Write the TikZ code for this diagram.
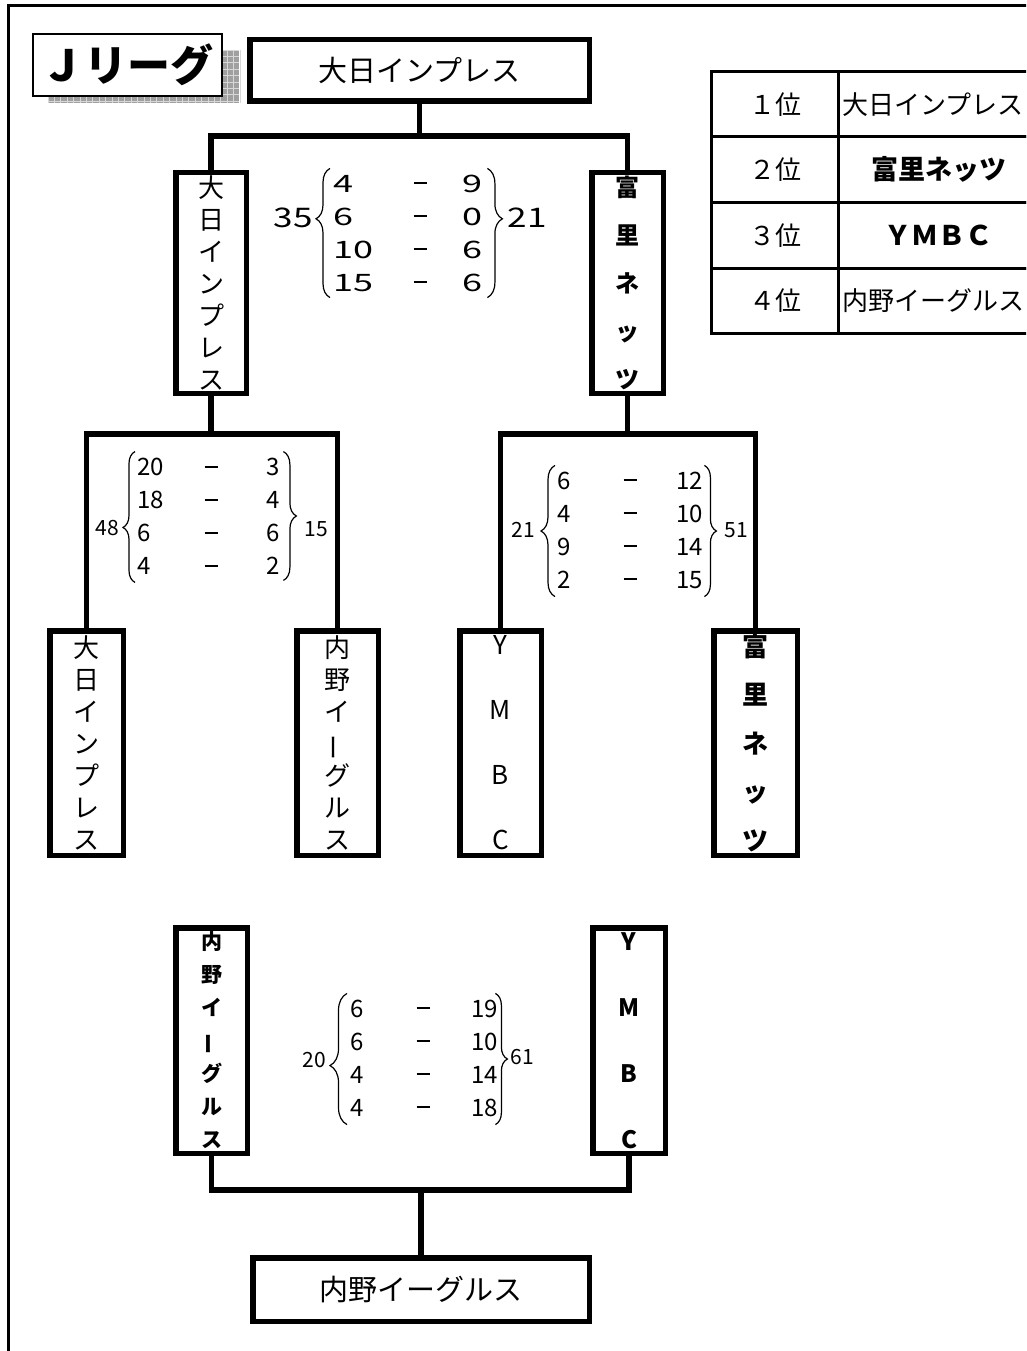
\documentclass[tikz,border=0pt]{standalone}
\usepackage{fontspec}
\setmainfont{Noto Sans CJK JP}
\usepackage{tikz}
\usetikzlibrary{positioning, decorations.pathreplacing, calc}
\definecolor{shadegray}{RGB}{160,160,160}
\definecolor{shadeline}{RGB}{215,215,215}
\newlength\scA
\newlength\scB
\newlength\scC
\newcommand{\wnum}[1]{\scalebox{1.5}[1]{#1}}
\newcommand{\sdash}{\rule[0.32em]{13pt}{2pt}}
\newcommand{\sline}[2]{\makebox[\scA][l]{#1}\makebox[\scB][c]{\sdash}\makebox[\scC][r]{#2}}
\newcommand{\wline}[2]{\sline{\wnum{#1}}{\wnum{#2}}}
\newcommand{\vbar}{\rotatebox[origin=c]{90}{ー}}
\tikzset{
    teambox/.style={draw, line width=5.5pt, inner sep=0pt, align=center, font=\fontsize{29}{34}\selectfont},
    vseven/.style={teambox, font=\fontsize{26}{32}\selectfont},
    vsevenb/.style={teambox, font=\fontsize{21}{33}\selectfont\bfseries},
    vfive/.style={teambox, font=\fontsize{24}{48}\selectfont\bfseries},
    vfour/.style={teambox, font=\fontsize{26}{65}\selectfont},
    vfourb/.style={teambox, font=\fontsize{24}{66}\selectfont\bfseries},
    link/.style={line width=5.5pt},
    rankcell/.style={draw, line width=3pt, inner sep=0pt, minimum width=127pt, minimum height=65.5pt, font=\fontsize{26}{30}\selectfont},
    teamcell/.style={draw, line width=3pt, inner sep=0pt, minimum width=200pt, minimum height=65.5pt, font=\fontsize{26}{30}\selectfont},
    titlebox/.style={draw, line width=2pt, fill=white, inner sep=0pt, minimum width=189pt, minimum height=62pt, font=\fontsize{43}{46}\selectfont\bfseries},
    cols/.code args={#1/#2/#3}{\setlength\scA{#1}\setlength\scB{#2}\setlength\scC{#3}},
    scores/.style={inner sep=0pt, align=left, anchor=west, font=\fontsize{24}{33}\selectfont},
    total/.style={inner sep=0pt, font=\fontsize{21}{24}\selectfont},
    bigtotal/.style={inner sep=0pt, font=\fontsize{27}{30}\selectfont},
    brc/.style={decorate, line width=1.2pt, decoration={brace, amplitude=#1}}
}
\begin{document}
\begin{tikzpicture}[x=1pt, y=-1pt]
    \useasboundingbox (0,0) rectangle (1026,1351);
    \clip (0,0) rectangle (1026,1351);
    \draw[line width=3pt] (8.5,1360) -- (8.5,5.5) -- (1040,5.5);

    % title with grid shadow
    \fill[shadegray] (48,50) rectangle (239,103);
    \foreach \gx in {48,54.4,...,240} \draw[shadeline, line width=0.8pt] (\gx,50) -- (\gx,103);
    \foreach \gy in {50,56.4,...,104} \draw[shadeline, line width=0.8pt] (48,\gy) -- (239,\gy);
    \node[titlebox] (ttl) at (127.5,65) {Ｊリーグ};

    % ranking table
    \node[rankcell] (rk1) at (775,104.25) {１位};
    \node[rankcell] (rk2) at (775,169.75) {２位};
    \node[rankcell] (rk3) at (775,235.25) {３位};
    \node[rankcell] (rk4) at (775,300.75) {４位};
    \node[teamcell] (tm1) at (938.5,104.25) {\makebox[192pt][l]{大日インプレス}};
    \node[teamcell, font=\fontsize{27}{30}\selectfont\bfseries] (tm2) at (938.5,169.75) {富里ネッツ};
    \node[teamcell, font=\fontsize{27}{30}\selectfont\bfseries] (tm3) at (938.5,235.25) {ＹＭＢＣ};
    \node[teamcell] (tm4) at (938.5,300.75) {\makebox[192pt][l]{内野イーグルス}};

    % bracket
    \node[teambox, minimum width=339.5pt, minimum height=61.5pt] (fin) at (419.5,70.5) {大日インプレス};
    \node[vseven, minimum width=70.5pt, minimum height=220.5pt] (sfL) at (211,283) {大\\日\\イ\\ン\\プ\\レ\\ス};
    \node[vfive, minimum width=71.5pt, minimum height=220.5pt] (sfR) at (627.5,283) {富\\里\\ネ\\ッ\\ツ};
    \node[vseven, minimum width=73.5pt, minimum height=224.5pt] (r1) at (86.5,743) {大\\日\\イ\\ン\\プ\\レ\\ス};
    \node[vseven, minimum width=81.5pt, minimum height=224.5pt] (r2) at (337.5,743) {内\\野\\イ\\\vbar\\グ\\ル\\ス};
    \node[vfour, minimum width=81.5pt, minimum height=224.5pt] (r3) at (500.5,743) {Y\\M\\B\\C};
    \node[vfive, font=\fontsize{26}{48.5}\selectfont\bfseries, minimum width=83.5pt, minimum height=224.5pt] (r4) at (755.5,743) {富\\里\\ネ\\ッ\\ツ};
    \node[vsevenb, minimum width=71.5pt, minimum height=225.5pt] (tpL) at (211.5,1040.5) {内\\野\\イ\\\vbar\\グ\\ル\\ス};
    \node[vfourb, minimum width=72.5pt, minimum height=225.5pt] (tpR) at (629,1040.5) {Y\\M\\B\\C};
    \node[teambox, minimum width=336.5pt, minimum height=63.5pt] (thd) at (421,1289.5) {内野イーグルス};

    \coordinate (j0) at (419.5,136);
    \coordinate (j1) at (211,434);
    \coordinate (j2) at (627.5,434);
    \coordinate (j3) at (421,1190);
    \draw[link] (fin.south) -- (j0);
    \draw[link] (sfL.north) |- (j0) -| (sfR.north);
    \draw[link] (sfL.south) -- (j1);
    \draw[link] (r1.north) |- (j1) -| (r2.north);
    \draw[link] (sfR.south) -- (j2);
    \draw[link] (r3.north) |- (j2) -| (r4.north);
    \draw[link] (tpL.south) |- (j3) -| (tpR.south);
    \draw[link] (j3) -- (thd.north);

    % scores
    \node[scores, cols={60pt/54pt/35pt}] (sc1) at (333,233) {\wline{4}{9}\\\wline{6}{0}\\\wline{10}{6}\\\wline{15}{6}};
    \node[bigtotal] (s1a) at (293,218) {\scalebox{1.3}[1]{35}};
    \node[bigtotal] (s1b) at (527,218) {\scalebox{1.3}[1]{21}};
    \draw[brc=14pt, decoration={aspect=0.61}] ([xshift=-3pt,yshift=-6pt]sc1.south west) -- ([xshift=-3pt,yshift=6pt]sc1.north west);
    \draw[brc=15pt, decoration={aspect=0.39}] ([xshift=5pt,yshift=6pt]sc1.north east) -- ([xshift=5pt,yshift=-6pt]sc1.south east);

    \node[scores, cols={55pt/38pt/50pt}] (sc2) at (137,516) {\sline{20}{3}\\\sline{18}{4}\\\sline{6}{6}\\\sline{4}{2}};
    \node[total] (s2a) at (107,528) {48};
    \node[total] (s2b) at (316,529) {15};
    \draw[brc=12pt, decoration={aspect=0.42}] ([xshift=-2pt,yshift=-8pt]sc2.south west) -- ([xshift=-2pt,yshift=6pt]sc2.north west);
    \draw[brc=13pt] ([xshift=3pt,yshift=6pt]sc2.north east) -- ([xshift=3pt,yshift=-6pt]sc2.south east);

    \node[scores, cols={55pt/36pt/55pt}] (sc3) at (557,530) {\sline{6}{12}\\\sline{4}{10}\\\sline{9}{14}\\\sline{2}{15}};
    \node[total] (s3a) at (523,530) {21};
    \node[total] (s3b) at (736,530) {51};
    \draw[brc=14pt] ([xshift=-2pt,yshift=-8pt]sc3.south west) -- ([xshift=-2pt,yshift=6pt]sc3.north west);
    \draw[brc=12pt] ([xshift=1pt,yshift=6pt]sc3.north east) -- ([xshift=1pt,yshift=-8pt]sc3.south east);

    \node[scores, cols={55pt/36pt/57pt}] (sc4) at (350,1058) {\sline{6}{19}\\\sline{6}{10}\\\sline{4}{14}\\\sline{4}{18}};
    \node[total] (s4a) at (314,1060) {20};
    \node[total] (s4b) at (522,1057) {61};
    \draw[brc=17pt, decoration={aspect=0.45}] ([xshift=-3pt,yshift=-8pt]sc4.south west) -- ([xshift=-3pt,yshift=6pt]sc4.north west);
    \draw[brc=12pt] ([xshift=-3pt,yshift=6pt]sc4.north east) -- ([xshift=-3pt,yshift=-8pt]sc4.south east);
\end{tikzpicture}
\end{document}
